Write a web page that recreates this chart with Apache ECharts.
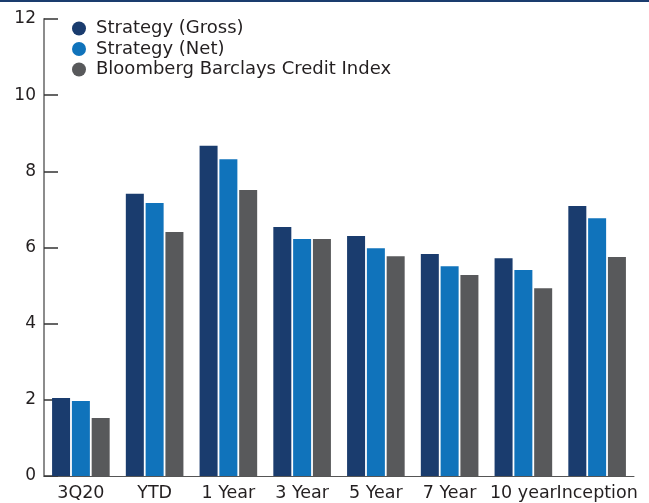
<!DOCTYPE html>
<html>
<head>
<meta charset="utf-8">
<script src="https://cdn.jsdelivr.net/npm/echarts@6/dist/echarts.min.js"></script>
<style>
  html, body { margin: 0; padding: 0; background: #fff; }
  #chart { width: 649px; height: 503px; }
</style>
</head>
<body>
<div id="chart"></div>
<script>
var categories = ['3Q20', 'YTD', '1 Year', '3 Year', '5 Year', '7 Year', '10 year', 'Inception'];
var grossValues = [2.05, 7.41, 8.67, 6.54, 6.30, 5.83, 5.72, 7.09];
var netValues = [1.97, 7.17, 8.32, 6.22, 5.98, 5.51, 5.41, 6.77];
var indexValues = [1.52, 6.41, 7.51, 6.22, 5.77, 5.28, 4.93, 5.75];
var yTicks = [0, 2, 4, 6, 8, 10, 12];

var myChart = echarts.init(document.getElementById('chart'));

var fontFamily = '"DejaVu Sans", "Open Sans", sans-serif';

var option = {
    animation: false,
    textStyle: { fontFamily: fontFamily },
    graphic: [
        {
            type: 'rect',
            shape: { x: 0, y: 0, width: 649, height: 2 },
            style: { fill: '#1a3c6e' }
        }
    ],
    legend: {
        orient: 'vertical',
        left: 67,
        top: 14.5,
        itemGap: 2.5,
        icon: 'circle',
        itemWidth: 14,
        itemHeight: 14,
        textStyle: {
            fontSize: 18,
            color: '#231f20',
            fontFamily: fontFamily,
            padding: [0, 0, 0, 5]
        },
        data: ['Strategy (Gross)', 'Strategy (Net)', 'Bloomberg Barclays Credit Index']
    },
    grid: {
        left: 44,
        right: 15,
        top: 19,
        bottom: 27
    },
    xAxis: {
        type: 'category',
        data: categories,
        axisLine: { lineStyle: { color: '#555', width: 1 } },
        axisTick: { inside: true, length: 10, lineStyle: { color: '#555' } },
        axisLabel: { color: '#231f20', fontSize: 17.5, margin: 8, interval: 0 }
    },
    yAxis: {
        type: 'value',
        min: yTicks[0],
        max: yTicks[yTicks.length - 1],
        interval: 2,
        splitLine: { show: false },
        axisLine: { show: true, lineStyle: { color: '#8c8c8c', width: 2 } },
        axisTick: { show: true, inside: true, length: 14, lineStyle: { color: '#333', width: 1.5 } },
        axisLabel: { color: '#231f20', fontSize: 17, margin: 8 }
    },
    series: [
        {
            name: 'Strategy (Gross)',
            type: 'bar',
            barWidth: 18,
            barGap: '10%',
            itemStyle: { color: '#1a3c6e' },
            data: grossValues
        },
        {
            name: 'Strategy (Net)',
            type: 'bar',
            barWidth: 18,
            barGap: '10%',
            itemStyle: { color: '#1073bb' },
            data: netValues
        },
        {
            name: 'Bloomberg Barclays Credit Index',
            type: 'bar',
            barWidth: 18,
            barGap: '10%',
            itemStyle: { color: '#58595b' },
            data: indexValues
        }
    ]
};

myChart.setOption(option);
</script>
</body>
</html>
